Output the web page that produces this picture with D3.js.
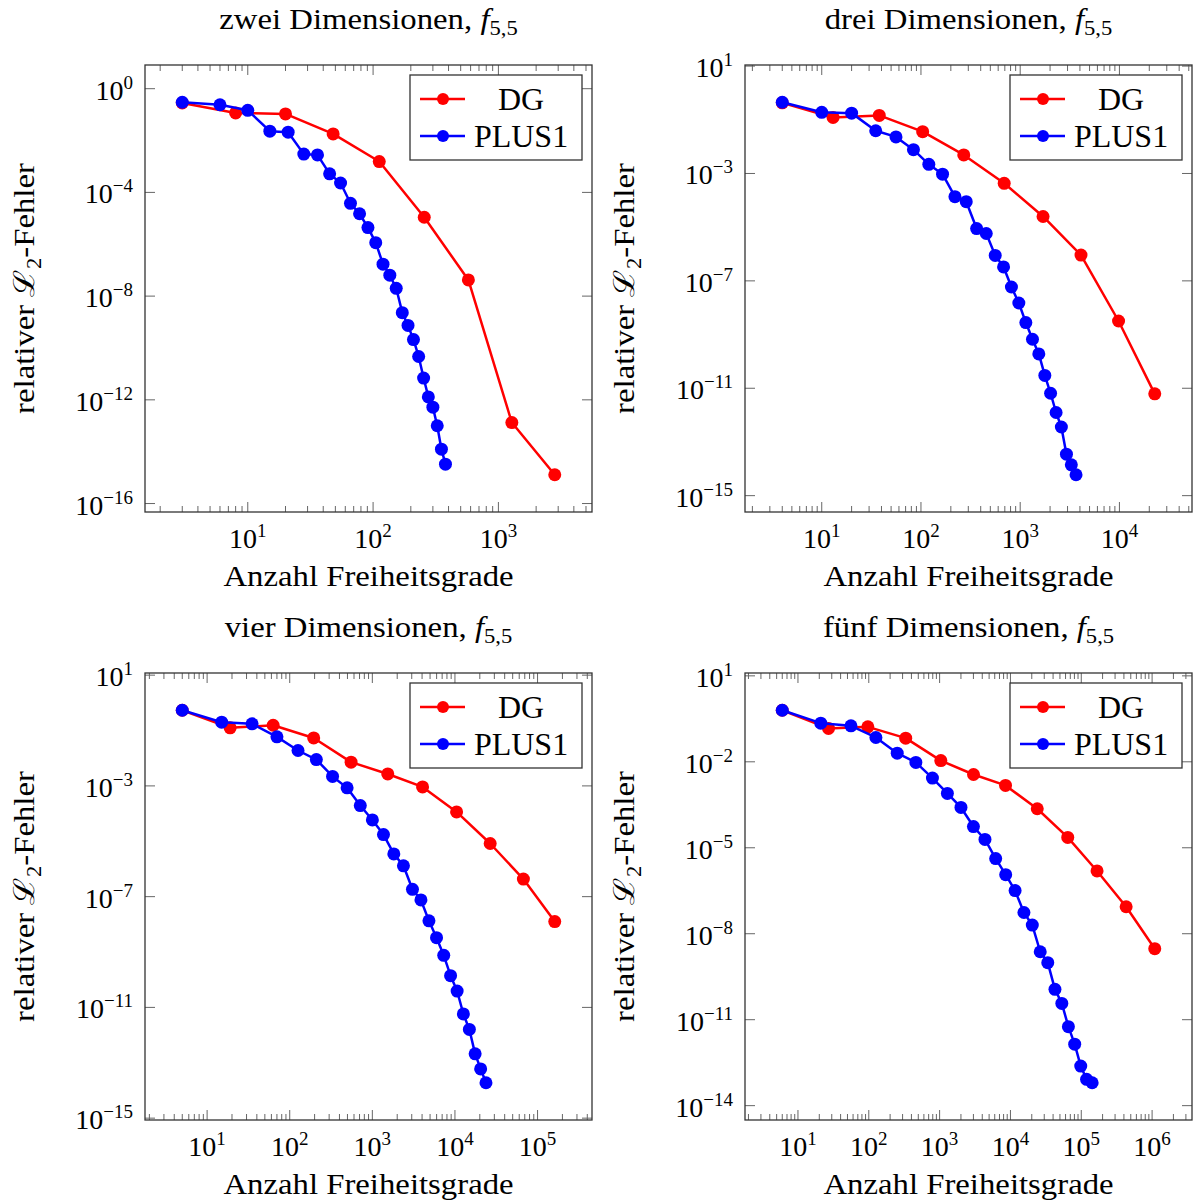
<!DOCTYPE html>
<html>
<head>
<meta charset="utf-8">
<script src="https://cdn.jsdelivr.net/npm/d3@7"></script>
<style>
  body { margin: 0; background: #fff; }
</style>
</head>
<body>
<svg id="chart" width="1193" height="1202" font-family="Liberation Serif"></svg>
<script>
// Werte: Anzahl Freiheitsgrade / relativer L2-Fehler
const dof2DG = [3, 8, 20, 48, 112, 256, 576, 1280, 2816]
const err2DG = [0.28, 0.116, 0.106, 0.018, 1.55e-3, 1.1e-5, 4.2e-8, 1.33e-13, 1.29e-15]
const dof2Plus = [3, 6, 10, 15, 21, 28, 36, 45, 55, 66, 78, 91, 105, 120, 136, 153, 171, 190, 210, 231, 253, 276, 300, 325, 351, 378]
const err2Plus = [0.30, 0.24, 0.147, 0.023, 0.021, 3.0e-3, 2.8e-3, 5.2e-4, 2.3e-4, 3.8e-5, 1.5e-5, 4.4e-6, 1.15e-6, 1.7e-7, 6.4e-8, 2.0e-8, 2.3e-9, 7.4e-10, 2.1e-10, 4.7e-11, 6.9e-12, 1.3e-12, 5.2e-13, 1.0e-13, 1.25e-14, 3.3e-15]

const dof3DG = [4, 13, 38, 104, 270, 690, 1700, 4100, 9800, 22700]
const err3DG = [0.427, 0.122, 0.145, 0.036, 4.9e-3, 4.3e-4, 2.5e-5, 9.1e-7, 3.2e-9, 6.2e-12]
const dof3Plus = [4, 10, 20, 35, 56, 84, 120, 165, 220, 286, 364, 455, 560, 680, 816, 969, 1140, 1330, 1540, 1771, 2024, 2300, 2600, 2925, 3276, 3654]
const err3Plus = [0.45, 0.19, 0.177, 0.039, 0.023, 7.7e-3, 2.2e-3, 9.4e-4, 1.37e-4, 8.9e-5, 8.9e-6, 5.8e-6, 8.9e-7, 3.3e-7, 5.9e-8, 1.5e-8, 2.8e-9, 6.7e-10, 1.9e-10, 3.0e-11, 6.5e-12, 1.25e-12, 3.6e-13, 3.5e-14, 1.4e-14, 6.0e-15]

const dof4DG = [5, 19, 63, 195, 553, 1538, 4055, 10470, 26700, 67400, 161500]
const err4DG = [0.54, 0.125, 0.155, 0.054, 7.2e-3, 2.7e-3, 9.2e-4, 1.15e-4, 8.3e-6, 4.3e-7, 1.26e-8]
const dof4Plus = [5, 15, 35, 70, 126, 210, 330, 495, 715, 1001, 1365, 1820, 2380, 3060, 3876, 4845, 5985, 7315, 8855, 10626, 12650, 14950, 17550, 20475, 23751]
const err4Plus = [0.54, 0.2, 0.174, 0.059, 0.019, 8.95e-3, 2.2e-3, 8.5e-4, 1.95e-4, 5.9e-5, 1.74e-5, 3.5e-6, 1.3e-6, 1.84e-7, 7.6e-8, 1.34e-8, 3.3e-9, 7.6e-10, 1.4e-10, 3.9e-11, 5.8e-12, 1.6e-12, 2.1e-13, 6.0e-14, 1.9e-14]

const dof5DG = [6, 27, 97, 332, 1040, 3010, 8520, 23900, 64400, 167000, 430000, 1090000]
const err5DG = [0.63, 0.146, 0.166, 0.067, 0.011, 3.6e-3, 1.5e-3, 2.3e-4, 2.3e-5, 1.55e-6, 8.75e-8, 3.0e-9]
const dof5Plus = [6, 21, 56, 126, 252, 462, 792, 1287, 2002, 3003, 4368, 6188, 8568, 11628, 15504, 20349, 26334, 33649, 42504, 53130, 65780, 80730, 98280, 118755, 142506]
const err5Plus = [0.63, 0.223, 0.18, 0.0706, 0.02, 9.5e-3, 2.7e-3, 7.9e-4, 2.55e-4, 5.5e-5, 1.95e-5, 4.2e-6, 1.15e-6, 3.2e-7, 5.5e-8, 2.0e-8, 2.35e-9, 9.8e-10, 1.15e-10, 3.7e-11, 5.7e-12, 1.4e-12, 2.4e-13, 8.3e-14, 6.3e-14]

// Exponenten der beschrifteten Ticks
const xTicks2 = [1, 2, 3]
const xTicks3 = [1, 2, 3, 4]
const xTicks4 = [1, 2, 3, 4, 5]
const xTicks5 = [1, 2, 3, 4, 5, 6]
const yTicks2 = [0, -4, -8, -12, -16]
const yTicks3 = [1, -3, -7, -11, -15]
const yTicks4 = [1, -3, -7, -11, -15]
const yTicks5 = [1, -2, -5, -8, -11, -14]

const titles = ['zwei Dimensionen, ', 'drei Dimensionen, ', 'vier Dimensionen, ', 'fünf Dimensionen, ']
const seriesNames = ['DG', 'PLUS1']
const colors = ['#ff0000', '#0000ff']

const panels = [
  { title: titles[0], dg: [dof2DG, err2DG], plus: [dof2Plus, err2Plus], xt: xTicks2, yt: yTicks2, x0: 145, y0: 65 },
  { title: titles[1], dg: [dof3DG, err3DG], plus: [dof3Plus, err3Plus], xt: xTicks3, yt: yTicks3, x0: 745, y0: 65 },
  { title: titles[2], dg: [dof4DG, err4DG], plus: [dof4Plus, err4Plus], xt: xTicks4, yt: yTicks4, x0: 145, y0: 673 },
  { title: titles[3], dg: [dof5DG, err5DG], plus: [dof5Plus, err5Plus], xt: xTicks5, yt: yTicks5, x0: 745, y0: 673 }
]

const size = 447
const stretch = 1.13 // Liberation Serif ist schmaler als Computer Modern
const svg = d3.select('#chart')

// wie pgfplots: Achsenbereich um 10% der (logarithmischen) Spannweite erweitern
function enlarged (values) {
  const [lo, hi] = d3.extent(values.map(Math.log10))
  const pad = (hi - lo) * 0.1
  return [Math.pow(10, lo - pad), Math.pow(10, hi + pad)]
}

function drawPanel (p) {
  const g = svg.append('g').attr('transform', `translate(${p.x0},${p.y0})`)
  const x = d3.scaleLog().domain(enlarged(p.dg[0].concat(p.plus[0]))).range([0, size])
  const y = d3.scaleLog().domain(enlarged(p.dg[1].concat(p.plus[1]))).range([size, 0])

  // Ticks (innen, oben/unten und links/rechts)
  const ticks = g.append('g').attr('stroke', '#666').attr('stroke-width', 1)
  const [lx, hx] = x.domain().map(Math.log10)
  for (let d = Math.floor(lx); d <= Math.ceil(hx); d++) {
    for (let m = 1; m <= 9; m++) {
      const v = m * Math.pow(10, d)
      if (v < x.domain()[0] || v > x.domain()[1]) continue
      const len = m === 1 ? 10 : 6
      const px = x(v)
      ticks.append('line').attr('x1', px).attr('x2', px).attr('y1', size).attr('y2', size - len)
      ticks.append('line').attr('x1', px).attr('x2', px).attr('y1', 0).attr('y2', len)
    }
  }
  p.yt.forEach(e => {
    const py = y(Math.pow(10, e))
    ticks.append('line').attr('x1', 0).attr('x2', 10).attr('y1', py).attr('y2', py)
    ticks.append('line').attr('x1', size).attr('x2', size - 10).attr('y1', py).attr('y2', py)
  })

  g.append('rect').attr('width', size).attr('height', size)
    .attr('fill', 'none').attr('stroke', '#333').attr('stroke-width', 1.3)

  // Tick-Beschriftungen
  p.xt.forEach(e => {
    const t = g.append('text').attr('x', x(Math.pow(10, e))).attr('y', size + 36)
      .attr('text-anchor', 'middle').attr('font-size', 28).text('10')
    t.append('tspan').attr('dy', -11).attr('font-size', 19).text(e)
  })
  p.yt.forEach(e => {
    const t = g.append('text').attr('x', -12).attr('y', y(Math.pow(10, e)) + 11)
      .attr('text-anchor', 'end').attr('font-size', 28).text('10')
    t.append('tspan').attr('dy', -11).attr('font-size', 19).text(String(e).replace('-', '\u2212'))
  })

  // Titel und Achsenbeschriftungen
  const title = g.append('text').attr('transform', `translate(${size / 2},-36) scale(${stretch},1)`)
    .attr('text-anchor', 'middle').attr('font-size', 29).text(p.title)
  title.append('tspan').attr('font-style', 'italic').text('f')
  title.append('tspan').attr('dy', 6).attr('font-size', 20).text('5,5')

  g.append('text').attr('transform', `translate(${size / 2},${size + 74}) scale(${stretch},1)`)
    .attr('text-anchor', 'middle').attr('font-size', 29).text('Anzahl Freiheitsgrade')

  const yl = g.append('text').attr('transform', `translate(-111,${size / 2}) rotate(-90) scale(${stretch},1)`)
    .attr('text-anchor', 'middle').attr('font-size', 29).text('relativer ')
  yl.append('tspan').text('\u2112')
  yl.append('tspan').attr('dy', 7).attr('font-size', 20).text('2')
  yl.append('tspan').attr('dy', -7).text('-Fehler')

  // Kurven
  const line = d3.line().x(d => x(d[0])).y(d => y(d[1]))
  const series = [p.dg, p.plus]
  series.forEach((s, i) => {
    const pts = d3.zip(s[0], s[1])
    g.append('path').datum(pts).attr('d', line)
      .attr('fill', 'none').attr('stroke', colors[i]).attr('stroke-width', 2.5)
      .attr('stroke-linejoin', 'round')
    g.append('g').selectAll('circle').data(pts).join('circle')
      .attr('cx', d => x(d[0])).attr('cy', d => y(d[1])).attr('r', 6.5)
      .attr('fill', colors[i])
  })

  // Legende
  const lg = g.append('g').attr('transform', `translate(${size - 10 - 172},10)`)
  lg.append('rect').attr('width', 172).attr('height', 85)
    .attr('fill', '#fff').attr('stroke', '#333').attr('stroke-width', 1.3)
  seriesNames.forEach((name, i) => {
    const ry = 24 + i * 37
    lg.append('line').attr('x1', 10).attr('x2', 55).attr('y1', ry).attr('y2', ry)
      .attr('stroke', colors[i]).attr('stroke-width', 2.6)
    lg.append('circle').attr('cx', 33).attr('cy', ry).attr('r', 6).attr('fill', colors[i])
    lg.append('text').attr('x', 111).attr('y', ry + 11).attr('text-anchor', 'middle')
      .attr('font-size', 32).text(name)
  })
}

panels.forEach(drawPanel)
</script>
</body>
</html>
